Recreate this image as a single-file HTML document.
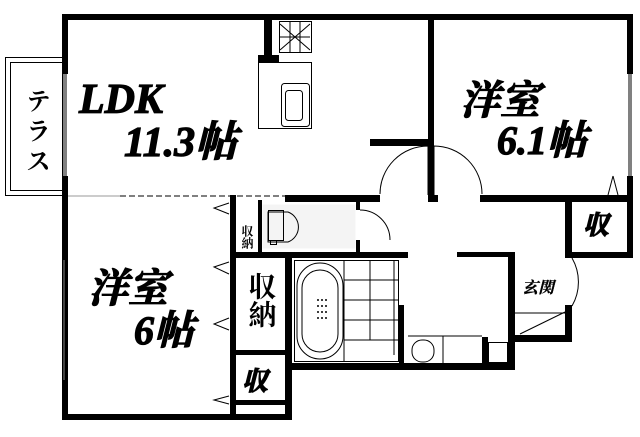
<!DOCTYPE html>
<html><head><meta charset="utf-8"><style>
html,body{margin:0;padding:0;background:#fff;}
svg{display:block}
.t{font-family:"Liberation Serif","Noto Serif CJK SC",serif;font-weight:bold;font-style:italic;fill:#000;stroke:#000;stroke-width:1.2}
.k{font-family:"Liberation Serif","Noto Serif CJK SC",serif;font-weight:bold;fill:#000}
</style></head><body>
<svg width="640" height="437" viewBox="0 0 640 437" xmlns="http://www.w3.org/2000/svg">
<g fill="#000">
<rect x="62" y="14" width="571" height="6"/>
<rect x="62" y="14" width="6" height="60"/>
<rect x="62" y="176" width="6" height="244"/>
<rect x="627" y="14" width="6" height="60"/>
<rect x="627" y="176" width="6" height="82"/>
<rect x="62" y="414" width="230" height="6"/>
<rect x="428" y="14" width="6" height="186"/>
<rect x="370" y="139" width="58" height="7"/>
<rect x="264" y="20" width="8" height="36"/>
<rect x="258" y="55" width="21" height="7"/>
<rect x="285" y="195" width="95" height="7"/>
<rect x="428" y="195" width="10" height="7"/>
<rect x="480" y="195" width="153" height="7"/>
<rect x="230" y="195" width="6" height="225"/>
<rect x="258" y="200" width="4" height="55"/>
<rect x="356" y="200" width="4" height="10"/>
<rect x="356" y="240" width="4" height="15"/>
<rect x="230" y="252" width="173" height="6"/>
<rect x="230" y="350" width="60" height="5"/>
<rect x="230" y="400" width="60" height="5"/>
<rect x="285" y="252" width="7" height="168"/>
<rect x="285" y="363" width="230" height="7"/>
<rect x="403" y="252" width="5" height="6"/>
<rect x="399" y="305" width="5" height="65"/>
<rect x="457" y="252" width="58" height="5"/>
<rect x="508" y="252" width="7" height="118"/>
<rect x="482" y="337" width="6" height="30"/>
<rect x="515" y="335" width="57" height="7"/>
<rect x="565" y="195" width="7" height="63"/>
<rect x="565" y="305" width="7" height="37"/>
<rect x="565" y="252" width="68" height="6"/>
</g>
<g fill="none" stroke="#000" stroke-width="1">
<rect x="5.5" y="57.5" width="57" height="138"/>
<rect x="10.5" y="62.5" width="52" height="128"/>
<line x1="64" y1="74" x2="64" y2="176"/><line x1="66" y1="74" x2="66" y2="176"/>
<line x1="629" y1="74" x2="629" y2="176"/><line x1="631" y1="74" x2="631" y2="176"/>
<line x1="64" y1="260" x2="64" y2="380" stroke="#888"/>
<line x1="68" y1="196" x2="120" y2="196" stroke="#999"/>
<rect x="258.5" y="62.5" width="53" height="66"/>
<rect x="279.5" y="21.5" width="32" height="31"/>
<rect x="281.5" y="83.5" width="28" height="43" rx="3"/>
<rect x="285.5" y="90.5" width="17" height="30" rx="3"/>
<line x1="280" y1="24" x2="310" y2="50"/><line x1="310" y1="24" x2="280" y2="50"/>
<line x1="290" y1="21" x2="290" y2="52"/><line x1="300" y1="21" x2="300" y2="52"/>
<line x1="280" y1="37" x2="310" y2="37"/>
<path d="M428 146 L428 195 M428 146 A48 48 0 0 0 380 194"/>
<path d="M434 146 L434 195 M434 146 A48 48 0 0 1 482 194"/>
<path d="M360 210 A30 30 0 0 1 390 240"/>
<path d="M572 258 A48 48 0 0 1 572 306"/>
<line x1="520" y1="334" x2="565" y2="312"/>
<line x1="120" y1="196" x2="285" y2="196" stroke-dasharray="6,3"/>
<line x1="457" y1="256" x2="508" y2="256" stroke-dasharray="5,3"/>
<line x1="613" y1="176" x2="608" y2="195"/><line x1="613" y1="176" x2="618" y2="195"/>
<path d="M229 203 L214 208 L229 214"/>
<path d="M229 262 L214 267 L229 274"/>
<path d="M229 318 L214 324 L229 330"/>
<path d="M229 396 L214 400 L229 404"/>
<rect x="262.5" y="204.5" width="93" height="44" fill="#f4f4f4" stroke="none"/>
<path d="M268 212 h20 a16 16 0 0 1 0 30 h-20 z"/>
<rect x="268.5" y="210.5" width="15" height="30"/>
<rect x="270.5" y="240.5" width="6" height="4"/>
<rect x="294.5" y="260.5" width="104" height="101"/>
<rect x="297" y="263" width="46" height="96" rx="23"/>
<rect x="302" y="270" width="36" height="82" rx="18"/>
<line x1="344" y1="260" x2="344" y2="362"/>
<line x1="344" y1="280" x2="398" y2="280"/>
<line x1="344" y1="300" x2="398" y2="300"/>
<line x1="344" y1="320" x2="398" y2="320"/>
<line x1="344" y1="340" x2="398" y2="340"/>
<line x1="370" y1="260" x2="370" y2="340"/>
<line x1="394" y1="260" x2="394" y2="355"/>
<rect x="412" y="340" width="22" height="22" rx="10"/>
<line x1="443" y1="336" x2="443" y2="363"/>
<line x1="408" y1="336" x2="482" y2="336"/>
<rect x="488.5" y="342.5" width="19" height="20"/>
<line x1="515" y1="313" x2="565" y2="313"/>
</g>
<g fill="#000">
<circle cx="318" cy="300" r="1"/><circle cx="322" cy="300" r="1"/><circle cx="326" cy="300" r="1"/>
<circle cx="318" cy="306" r="1"/><circle cx="322" cy="306" r="1"/><circle cx="326" cy="306" r="1"/>
<circle cx="318" cy="312" r="1"/><circle cx="322" cy="312" r="1"/><circle cx="326" cy="312" r="1"/>
<circle cx="318" cy="318" r="1"/><circle cx="322" cy="318" r="1"/><circle cx="326" cy="318" r="1"/>
</g>
<text class="k" x="36" y="88" font-size="25" writing-mode="tb" letter-spacing="5">テラス</text>
<text class="t" x="79" y="113" font-size="42">LDK</text>
<text class="t" x="124" y="156" font-size="42">11.3帖</text>
<text class="t" x="460" y="114" font-size="40">洋室</text>
<text class="t" x="497" y="154" font-size="40">6.1帖</text>
<text class="t" x="88" y="302" font-size="40">洋室</text>
<text class="t" x="134" y="344" font-size="40">6帖</text>
<text class="k" x="247" y="225" font-size="12" writing-mode="tb">収納</text>
<text class="k" x="260" y="272" font-size="28" writing-mode="tb">収納</text>
<text class="t" x="242" y="390" font-size="26">収</text>
<text class="t" x="583" y="234" font-size="26">収</text>
<text class="t" x="522" y="293" font-size="16" style="stroke-width:0.3">玄関</text>
</svg>
</body></html>
